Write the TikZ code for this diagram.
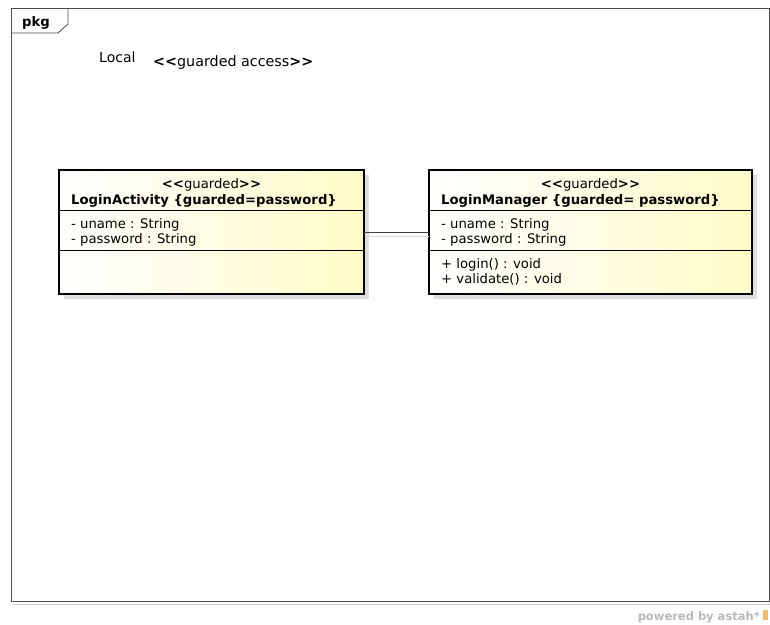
\documentclass[tikz,border=0pt]{standalone}
\usepackage{fontspec}
\setmainfont{DejaVu Sans}
\definecolor{cls}{RGB}{255,251,200}
\definecolor{shadowc}{RGB}{222,222,222}
\definecolor{astah}{RGB}{245,185,110}
\newcommand{\stOpen}{\textbf{<\kern0pt<}}
\newcommand{\stClose}{\textbf{>\kern0pt>}}
\tikzset{
  x=1pt,y=-1pt,
  clsbox/.style={draw=black,line width=1.6pt},
  sep/.style={draw=black,line width=0.7pt},
  txt/.style={inner sep=0pt,anchor=base west,font=\fontsize{13.2}{15}\selectfont},
  btxt/.style={inner sep=0pt,anchor=base west,font=\fontsize{13.2}{15}\selectfont\bfseries},
  stxt/.style={inner sep=0pt,anchor=base,font=\fontsize{13.2}{15}\selectfont},
}
\begin{document}
\begin{tikzpicture}
\useasboundingbox (0,0) rectangle (770,624);
\fill[white] (0,0) rectangle (770,624);
% frame
\draw[gray!40,line width=0.8pt] (13,604) -- (771,604);
\draw[black!70,line width=0.8pt] (11,8) rectangle (769,601);
\draw[black!70,line width=0.8pt] (68,8) -- (68,24) -- (58,33) -- (11,33);
\node[btxt] (pkg) at (22,26) {pkg};
\node[txt,font=\fontsize{14}{16}\selectfont] (local) at (99,62) {Local};
\node[txt,font=\fontsize{14.3}{16}\selectfont] (gacc) at (153,66) {\stOpen guarded access\stClose};
% shadows
\fill[shadowc] (64,175) rectangle (369,299);
\fill[shadowc] (434,175) rectangle (757,299);
% left class
\shade[shading angle=120,left color=white,right color=cls] (59,170) rectangle (364,294);
\draw[clsbox] (59,170) rectangle (364,294);
\draw[sep] (59,210) -- (364,210);
\draw[sep] (59,250) -- (364,250);
\coordinate (la) at (364,232);
\node[stxt] (lst) at (211.5,188) {\stOpen guarded\stClose};
\node[btxt] (lname) at (71,204) {LoginActivity \{guarded=password\}};
\node[txt] (la1) at (71,228) {- uname : String};
\node[txt] (la2) at (71,243) {- password : String};
% right class
\shade[shading angle=120,left color=white,right color=cls] (429,170) rectangle (752,294);
\draw[clsbox] (429,170) rectangle (752,294);
\draw[sep] (429,210) -- (752,210);
\draw[sep] (429,250) -- (752,250);
\coordinate (ra) at (429,232);
\node[stxt] (rst) at (590.5,188) {\stOpen guarded\stClose};
\node[btxt] (rname) at (441,204) {LoginManager \{guarded= password\}};
\node[txt] (ra1) at (441,228) {- uname : String};
\node[txt] (ra2) at (441,243) {- password : String};
\node[txt] (ro1) at (441,268) {+ login() : void};
\node[txt] (ro2) at (441,283) {+ validate() : void};
% association
\draw[gray!30,line width=0.8pt] (366,236) -- (429,236);
\draw[black!75,line width=0.8pt] (la) -- (ra);
% footer
\node[inner sep=0pt,anchor=base east,text=gray!55,font=\fontsize{11.5}{13}\selectfont\bfseries] (pw) at (760,620) {powered by astah*};
\fill[astah] (763,610) rectangle (768,620);
\end{tikzpicture}
\end{document}
